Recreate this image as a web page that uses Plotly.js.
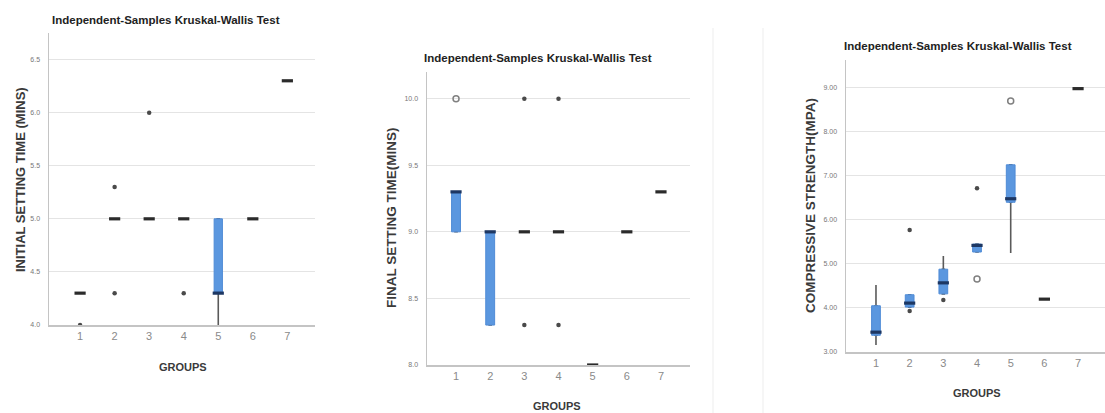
<!DOCTYPE html>
<html><head><meta charset="utf-8">
<script src="https://cdn.plot.ly/plotly-3.0.1.min.js"></script>
<style>html,body{margin:0;padding:0;background:#fff}#chart{width:1105px;height:413px}</style>
</head><body><div id="chart"></div>
<script>
// ---------- data ----------
const groups = [1, 2, 3, 4, 5, 6, 7];
const tickLabels = ['1', '2', '3', '4', '5', '6', '7'];
const chartTitle = 'Independent-Samples Kruskal-Wallis Test';
const xTitle = 'GROUPS';

// Panel 1: initial setting time (mins)
const p1Title = 'INITIAL SETTING TIME (MINS)';
const p1Q1     = [4.3, 5.0, 5.0, 5.0, 4.3, 5.0, 6.3];
const p1Median = [4.3, 5.0, 5.0, 5.0, 4.3, 5.0, 6.3];
const p1Q3     = [4.3, 5.0, 5.0, 5.0, 5.0, 5.0, 6.3];
const p1Low    = [4.3, 5.0, 5.0, 5.0, 4.0, 5.0, 6.3];
const p1High   = [4.3, 5.0, 5.0, 5.0, 5.0, 5.0, 6.3];
const p1ExtX   = [1, 2, 2, 3, 4];
const p1ExtY   = [4.0, 5.3, 4.3, 6.0, 4.3];
const p1OutX   = [];
const p1OutY   = [];
const p1Ticks  = [4.0, 4.5, 5.0, 5.5, 6.0, 6.5];

// Panel 2: final setting time (mins)
const p2Title = 'FINAL SETTING TIME(MINS)';
const p2Q1     = [9.0, 8.3, 9.0, 9.0, 8.0, 9.0, 9.3];
const p2Median = [9.3, 9.0, 9.0, 9.0, 8.0, 9.0, 9.3];
const p2Q3     = [9.3, 9.0, 9.0, 9.0, 8.0, 9.0, 9.3];
const p2Low    = [9.0, 8.3, 9.0, 9.0, 8.0, 9.0, 9.3];
const p2High   = [9.3, 9.0, 9.0, 9.0, 8.0, 9.0, 9.3];
const p2ExtX   = [3, 3, 4, 4];
const p2ExtY   = [10.0, 8.3, 10.0, 8.3];
const p2OutX   = [1];
const p2OutY   = [10.0];
const p2Ticks  = [8.0, 8.5, 9.0, 9.5, 10.0];

// Panel 3: compressive strength (MPa)
const p3Title = 'COMPRESSIVE STRENGTH(MPA)';
const p3Q1     = [3.38, 4.02, 4.32, 5.27, 6.40, 4.20, 8.98];
const p3Median = [3.45, 4.11, 4.57, 5.42, 6.48, 4.20, 8.98];
const p3Q3     = [4.05, 4.30, 4.88, 5.45, 7.25, 4.20, 8.98];
const p3Low    = [3.16, 4.02, 4.32, 5.27, 5.25, 4.20, 8.98];
const p3High   = [4.52, 4.30, 5.18, 5.45, 7.25, 4.20, 8.98];
const p3ExtX   = [2, 2, 3, 4];
const p3ExtY   = [5.77, 3.93, 4.18, 6.72];
const p3OutX   = [4, 5];
const p3OutY   = [4.66, 8.70];
const p3Ticks  = [3, 4, 5, 6, 7, 8, 9];

// ---------- build ----------
const traces = [];
function addPanel(n, q1, med, q3, lo, hi, extX, extY, outX, outY, bw) {
  const xa = n === 1 ? 'x' : 'x' + n, ya = n === 1 ? 'y' : 'y' + n;
  const idx = groups.map((g, i) => i).filter(i => hi[i] > lo[i]);
  const bIdx = groups.map((g, i) => i).filter(i => q3[i] > q1[i]);
  const pick = (arr, ii) => ii.map(i => arr[i]);
  // whiskers
  traces.push({type: 'box', xaxis: xa, yaxis: ya, x: pick(groups, idx),
    q1: pick(q1, idx), median: pick(med, idx), q3: pick(q3, idx),
    lowerfence: pick(lo, idx), upperfence: pick(hi, idx),
    boxpoints: false, width: 0.06, whiskerwidth: 0,
    line: {color: '#5a5a5a', width: 1.6}, fillcolor: 'rgba(0,0,0,0)',
    hoverinfo: 'skip', showlegend: false});
  // boxes
  traces.push({type: 'box', xaxis: xa, yaxis: ya, x: pick(groups, bIdx),
    q1: pick(q1, bIdx), median: pick(med, bIdx), q3: pick(q3, bIdx),
    lowerfence: pick(q1, bIdx), upperfence: pick(q3, bIdx),
    boxpoints: false, width: bw, whiskerwidth: 0,
    line: {color: '#4f8bd6', width: 1}, fillcolor: '#5b97df',
    hoverinfo: 'skip', showlegend: false});
  // medians
  traces.push({type: 'scatter', mode: 'markers', xaxis: xa, yaxis: ya,
    x: groups, y: med, showlegend: false, hoverinfo: 'skip',
    marker: {symbol: 'line-ew', size: 8,
      line: {width: 3.2, color: groups.map((g, i) => q3[i] > q1[i] ? '#1d3763' : '#2b2b2b')}}});
  // extreme values (asterisks)
  traces.push({type: 'scatter', mode: 'markers', xaxis: xa, yaxis: ya,
    x: extX, y: extY, showlegend: false, hoverinfo: 'skip',
    marker: {symbol: 'circle', size: 4.5, color: '#4a4a4a'}});
  // outliers (circles)
  traces.push({type: 'scatter', mode: 'markers', xaxis: xa, yaxis: ya,
    x: outX, y: outY, showlegend: false, hoverinfo: 'skip',
    marker: {symbol: 'circle-open', size: 6, color: '#808080', line: {width: 1.5}}});
}
addPanel(1, p1Q1, p1Median, p1Q3, p1Low, p1High, p1ExtX, p1ExtY, p1OutX, p1OutY, 0.24);
addPanel(2, p2Q1, p2Median, p2Q3, p2Low, p2High, p2ExtX, p2ExtY, p2OutX, p2OutY, 0.26);
addPanel(3, p3Q1, p3Median, p3Q3, p3Low, p3High, p3ExtX, p3ExtY, p3OutX, p3OutY, 0.26);

const W = 1105, H = 413;
const px = v => v / W, py = v => 1 - v / H;
function xAxis(domain, range, anchor) {
  return {domain, range, anchor, tickmode: 'array', tickvals: groups, ticktext: tickLabels,
    showline: true, linecolor: '#c4c4c4', linewidth: 1.5, showgrid: false, zeroline: false,
    ticks: '', tickfont: {family: 'Liberation Sans, Arial, sans-serif', size: 11, color: '#8a8a8a'}, fixedrange: true};
}
function yAxis(domain, range, anchor, ticks, fmt) {
  return {domain, range, anchor, tickmode: 'array', tickvals: ticks, ticktext: ticks.map(v => v.toFixed(fmt)),
    showline: true, linecolor: '#c4c4c4', linewidth: 1.5, showgrid: true, gridcolor: '#e4e4e4', gridwidth: 1,
    zeroline: false, ticks: '', ticklabelstandoff: 6,
    tickfont: {family: 'Liberation Sans, Arial, sans-serif', size: 7, color: '#777'}, fixedrange: true};
}
const titleFont = {family: 'Liberation Sans, Arial, sans-serif', size: 11.5, color: '#222', weight: 'bold'};
const axTitleFont = s => ({family: 'Liberation Sans, Arial, sans-serif', size: s, color: '#3a3a3a', weight: 'bold'});
function ann(text, x, y, font, extra) {
  return Object.assign({text, x: px(x), y: py(y), xref: 'paper', yref: 'paper', showarrow: false,
    xanchor: 'center', yanchor: 'middle', font}, extra || {});
}

const layout = {
  width: W, height: H, margin: {l: 0, r: 0, t: 0, b: 0},
  paper_bgcolor: '#fff', plot_bgcolor: '#fff', showlegend: false, boxmode: 'overlay',
  xaxis:  xAxis([px(49), px(315)], [0.1, 7.8], 'y'),
  yaxis:  yAxis([py(325), py(33)], [4.0, 6.75], 'x', p1Ticks, 1),
  xaxis2: xAxis([px(427), px(690)], [0.15, 7.85], 'y2'),
  yaxis2: yAxis([py(365), py(72)], [8.0, 10.2], 'x2', p2Ticks, 1),
  xaxis3: xAxis([px(846), px(1105)], [0.11, 7.8], 'y3'),
  yaxis3: yAxis([py(352), py(60)], [3.0, 9.63], 'x3', p3Ticks, 2),
  annotations: [
    ann(chartTitle, 50, 20, titleFont, {xanchor: 'left'}),
    ann(chartTitle, 422, 58, titleFont, {xanchor: 'left'}),
    ann(chartTitle, 842, 46, titleFont, {xanchor: 'left'}),
    ann(p1Title, 20, 180, axTitleFont(13), {textangle: -90}),
    ann(p2Title, 392, 218, axTitleFont(13.5), {textangle: -90}),
    ann(p3Title, 810, 206, axTitleFont(13.5), {textangle: -90}),
    ann(xTitle, 183, 367, axTitleFont(11)),
    ann(xTitle, 557, 406, axTitleFont(11)),
    ann(xTitle, 977, 393, axTitleFont(11))
  ],
  shapes: [
    {type: 'line', xref: 'paper', yref: 'paper', x0: px(713), x1: px(713), y0: 0, y1: py(28), line: {color: '#ededed', width: 1}},
    {type: 'line', xref: 'paper', yref: 'paper', x0: px(763), x1: px(763), y0: 0, y1: py(28), line: {color: '#ededed', width: 1}}
  ]
};
Plotly.newPlot('chart', traces, layout, {staticPlot: true, displayModeBar: false});
</script></body></html>
